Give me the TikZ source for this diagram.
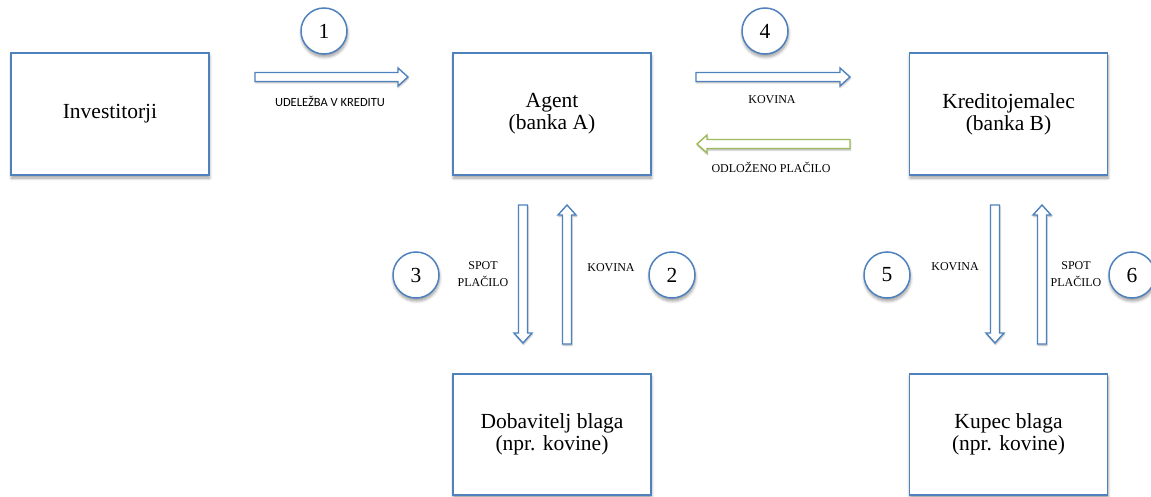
\documentclass[tikz,border=0pt]{standalone}
\usepackage{fontspec}
\setmainfont{Liberation Serif}
\newfontfamily\labelsans{Carlito}
\usetikzlibrary{shadows.blur}

\definecolor{boxblue}{HTML}{4F81BD}
\definecolor{paygreen}{HTML}{9BBB59}

\tikzset{
  softshadow/.style={blur shadow={shadow xshift=0.5pt, shadow yshift=-3pt,
      shadow blur steps=6, shadow blur radius=3pt, shadow opacity=40}},
  party/.style={draw=boxblue, line width=1.5pt, fill=white,
      minimum width=198pt, minimum height=122pt, inner sep=0pt,
      align=center, font=\fontsize{21.5}{22}\selectfont, softshadow},
  stepnum/.style={circle, draw=boxblue, line width=1.5pt, fill=white,
      minimum size=46pt, inner sep=0pt,
      font=\fontsize{21.5}{21}\selectfont, softshadow},
  flowlabel/.style={font=\fontsize{12}{17}\selectfont, align=center, inner sep=0pt},
  arrowbody/.style={line width=1.4pt, fill=white,
      blur shadow={shadow xshift=0.5pt, shadow yshift=-1.5pt,
      shadow blur steps=4, shadow blur radius=1.5pt, shadow opacity=30}},
  pics/blockarrow/.style={code={
      \draw[arrowbody, pic actions] (0,-4.5) -- ({#1-10},-4.5) -- ({#1-10},-9)
        -- (#1,0) -- ({#1-10},9) -- ({#1-10},4.5) -- (0,4.5) -- cycle;}},
}

\begin{document}
\begin{tikzpicture}[x=1pt, y=-1pt]
  \useasboundingbox (0,0) rectangle (1151,497);

  % parties
  \node[party] (inv)   at (110,114)    {Investitorji};
  \node[party] (agent) at (552,114)    {Agent\\(banka A)};
  \node[party] (kred)  at (1008.5,114) {Kreditojemalec\\(banka B)};
  \node[party, minimum height=121pt] (dob) at (552,434.5)    {Dobavitelj blaga\\(npr. kovine)};
  \node[party, minimum height=121pt] (kup) at (1008.5,434.5) {Kupec blaga\\(npr. kovine)};

  % flows
  \pic[draw=boxblue] (f1)  at (255,77)   {blockarrow=153};
  \pic[draw=boxblue] (f4)  at (696,77)   {blockarrow=154};
  \pic[draw=paygreen, rotate=180] (f4b) at (850,144) {blockarrow=153};
  \pic[draw=boxblue, rotate=-90] (f3) at (523,205)  {blockarrow=138};
  \pic[draw=boxblue, rotate=90]  (f2) at (567,344)  {blockarrow=139};
  \pic[draw=boxblue, rotate=-90] (f5) at (995,205)  {blockarrow=138};
  \pic[draw=boxblue, rotate=90]  (f6) at (1042,344) {blockarrow=139};

  % flow labels
  \node[inner sep=0pt, font=\labelsans\fontsize{12.5}{14}\selectfont] (l1) at (330,101) {UDELEŽBA V KREDITU};
  \node[flowlabel] (l4)  at (772,100)   {KOVINA};
  \node[flowlabel] (l4b) at (771,167)   {ODLOŽENO PLAČILO};
  \node[flowlabel] (l3)  at (483,274.5) {SPOT\\PLAČILO};
  \node[flowlabel] (l2)  at (611,268)   {KOVINA};
  \node[flowlabel] (l5)  at (955,267)   {KOVINA};
  \node[flowlabel] (l6)  at (1076,274.5) {SPOT\\PLAČILO};

  % step numbers
  \node[stepnum] (n1) at (324,31)  {1};
  \node[stepnum] (n4) at (765,31)  {4};
  \node[stepnum] (n3) at (416,275) {3};
  \node[stepnum] (n2) at (672,275) {2};
  \node[stepnum] (n5) at (887,275) {5};
  \node[stepnum] (n6) at (1132,275) {6};
\end{tikzpicture}
\end{document}
